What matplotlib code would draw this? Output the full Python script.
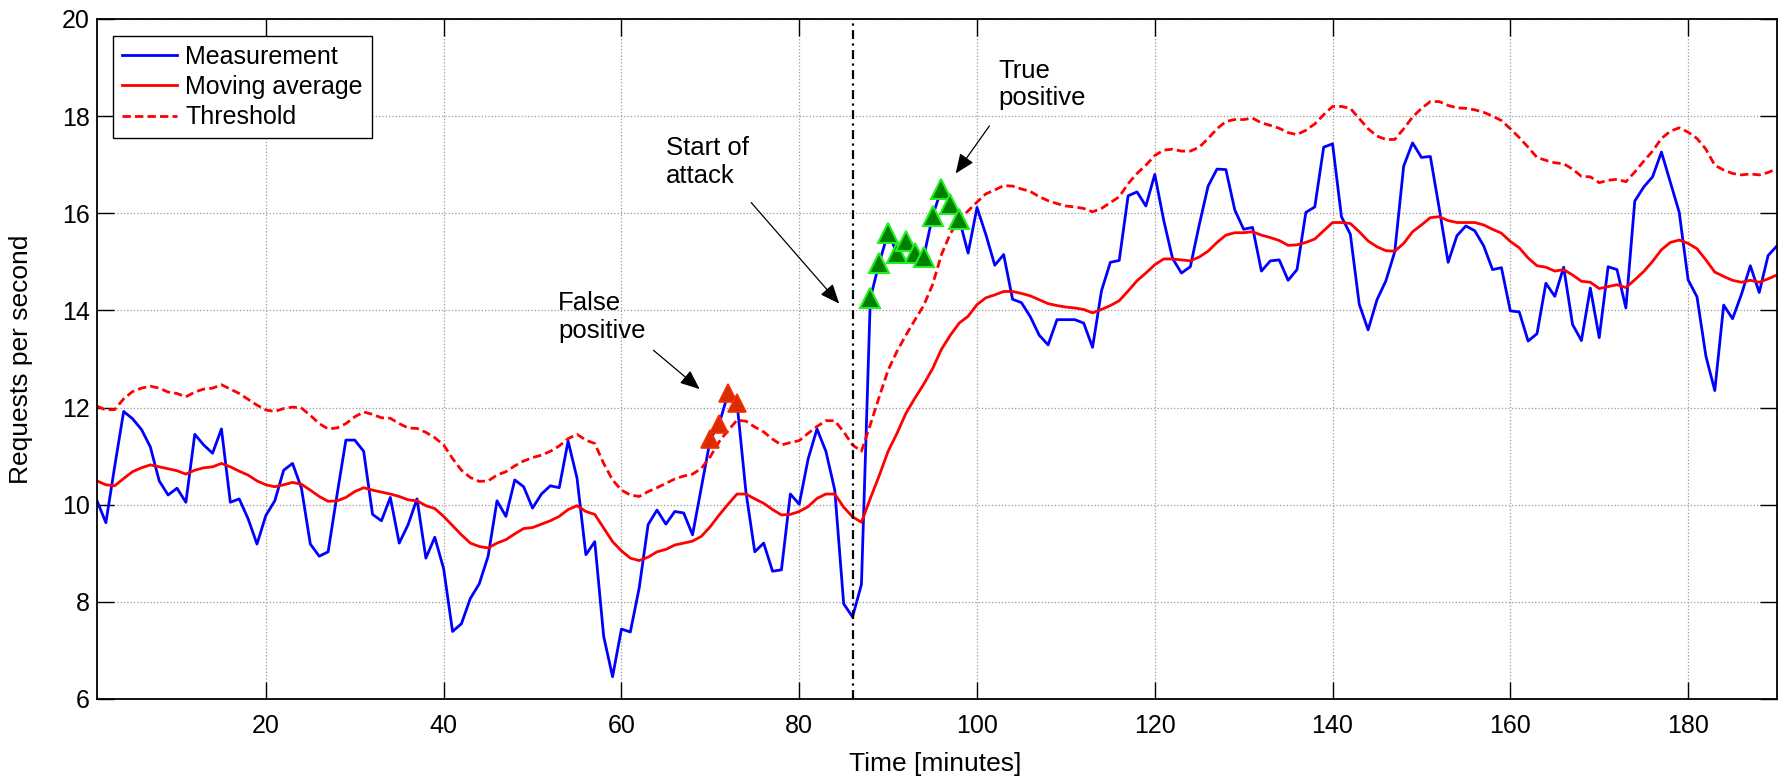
import numpy as np
import matplotlib
matplotlib.use("Agg")
import matplotlib.pyplot as plt

plt.rcParams["font.family"] = ["Liberation Sans", "DejaVu Sans"]

# requests per second, one value per minute (1..190)
measurement = [
    10.08, 9.63, 10.80, 11.92, 11.77, 11.55, 11.19, 10.49, 10.20, 10.34,
    10.05, 11.45, 11.23, 11.06, 11.56, 10.05, 10.12, 9.71, 9.19, 9.78,
    10.08, 10.71, 10.85, 10.34, 9.19, 8.94, 9.03, 10.20, 11.33, 11.33,
    11.10, 9.80, 9.67, 10.15, 9.21, 9.59, 10.12, 8.90, 9.33, 8.68,
    7.39, 7.55, 8.07, 8.37, 8.94, 10.08, 9.76, 10.51, 10.37, 9.93,
    10.22, 10.39, 10.35, 11.31, 10.55, 8.97, 9.24, 7.29, 6.46, 7.44,
    7.38, 8.29, 9.59, 9.89, 9.60, 9.86, 9.83, 9.38, 10.37, 11.35,
    11.67, 12.29, 12.10, 10.27, 9.03, 9.21, 8.63, 8.66, 10.22, 10.01,
    10.94, 11.56, 11.10, 10.30, 7.96, 7.69, 8.36, 14.25, 14.98, 15.60,
    15.18, 15.42, 15.18, 15.10, 15.94, 16.50, 16.19, 15.88, 15.18, 16.12,
    15.56, 14.93, 15.15, 14.23, 14.16, 13.87, 13.49, 13.29, 13.81, 13.81,
    13.81, 13.74, 13.24, 14.40, 14.99, 15.03, 16.36, 16.44, 16.15, 16.80,
    15.86, 15.07, 14.77, 14.90, 15.76, 16.56, 16.91, 16.90, 16.07, 15.67,
    15.71, 14.81, 15.02, 15.04, 14.62, 14.84, 16.02, 16.13, 17.36, 17.43,
    15.93, 15.57, 14.13, 13.60, 14.22, 14.61, 15.21, 16.97, 17.45, 17.15,
    17.17, 16.10, 14.99, 15.54, 15.74, 15.64, 15.33, 14.84, 14.88, 13.99,
    13.97, 13.37, 13.52, 14.56, 14.29, 14.89, 13.71, 13.38, 14.46, 13.44,
    14.90, 14.84, 14.05, 16.25, 16.54, 16.75, 17.26, 16.64, 16.02, 14.63,
    14.28, 13.06, 12.35, 14.11, 13.83, 14.33, 14.92, 14.37, 15.13, 15.33,
]

moving_average = [
    10.49, 10.41, 10.39, 10.54, 10.68, 10.76, 10.82, 10.78, 10.74, 10.70,
    10.63, 10.71, 10.76, 10.78, 10.85, 10.78, 10.69, 10.61, 10.49, 10.41,
    10.37, 10.41, 10.46, 10.42, 10.30, 10.17, 10.07, 10.08, 10.15, 10.27,
    10.35, 10.30, 10.26, 10.22, 10.17, 10.10, 10.08, 9.98, 9.92, 9.76,
    9.57, 9.38, 9.21, 9.14, 9.11, 9.21, 9.28, 9.40, 9.51, 9.53,
    9.60, 9.67, 9.76, 9.90, 9.98, 9.86, 9.80, 9.52, 9.24, 9.05,
    8.90, 8.85, 8.92, 9.03, 9.08, 9.17, 9.21, 9.25, 9.35, 9.55,
    9.79, 10.01, 10.22, 10.22, 10.12, 10.03, 9.90, 9.79, 9.80, 9.86,
    9.96, 10.13, 10.22, 10.22, 9.95, 9.75, 9.64, 10.13, 10.60, 11.10,
    11.47, 11.88, 12.19, 12.48, 12.80, 13.20, 13.49, 13.74, 13.88, 14.12,
    14.26, 14.32, 14.39, 14.39, 14.35, 14.30, 14.22, 14.14, 14.10, 14.07,
    14.05, 14.02, 13.95, 14.02, 14.10, 14.20, 14.40, 14.61, 14.77, 14.94,
    15.06, 15.06, 15.04, 15.02, 15.10, 15.22, 15.40, 15.55, 15.60, 15.60,
    15.62, 15.55, 15.50, 15.44, 15.34, 15.35, 15.40, 15.47, 15.64, 15.81,
    15.81, 15.79, 15.62, 15.43, 15.31, 15.23, 15.22, 15.38, 15.62, 15.76,
    15.91, 15.93, 15.85, 15.81, 15.81, 15.81, 15.76, 15.67, 15.59, 15.42,
    15.29, 15.08, 14.92, 14.89, 14.81, 14.84, 14.73, 14.60, 14.58, 14.45,
    14.49, 14.53, 14.47, 14.63, 14.80, 15.01, 15.25, 15.40, 15.45, 15.38,
    15.27, 15.04, 14.79, 14.70, 14.62, 14.58, 14.62, 14.58, 14.65, 14.73,
]

threshold = [
    12.03, 11.95, 11.96, 12.18, 12.33, 12.40, 12.44, 12.40, 12.32, 12.29,
    12.22, 12.32, 12.38, 12.40, 12.47, 12.38, 12.29, 12.17, 12.05, 11.95,
    11.92, 11.98, 12.01, 11.99, 11.84, 11.67, 11.56, 11.58, 11.67, 11.81,
    11.91, 11.86, 11.79, 11.78, 11.67, 11.58, 11.57, 11.49, 11.38, 11.23,
    10.95, 10.71, 10.56, 10.48, 10.49, 10.61, 10.68, 10.80, 10.90, 10.97,
    11.02, 11.10, 11.21, 11.36, 11.45, 11.33, 11.26, 10.85, 10.51, 10.30,
    10.20, 10.17, 10.27, 10.35, 10.44, 10.53, 10.59, 10.63, 10.75, 10.99,
    11.30, 11.53, 11.74, 11.72, 11.60, 11.50, 11.35, 11.23, 11.28, 11.32,
    11.47, 11.61, 11.73, 11.73, 11.50, 11.23, 11.10, 11.65, 12.22, 12.77,
    13.16, 13.49, 13.80, 14.10, 14.53, 15.15, 15.58, 15.87, 16.05, 16.23,
    16.40, 16.48, 16.57, 16.56, 16.50, 16.45, 16.34, 16.26, 16.20, 16.15,
    16.13, 16.10, 16.03, 16.10, 16.22, 16.34, 16.61, 16.82, 16.99, 17.19,
    17.30, 17.32, 17.28, 17.28, 17.36, 17.54, 17.74, 17.89, 17.93, 17.93,
    17.96, 17.86, 17.81, 17.75, 17.66, 17.62, 17.71, 17.84, 18.03, 18.20,
    18.20, 18.16, 17.95, 17.74, 17.59, 17.52, 17.52, 17.74, 17.98, 18.16,
    18.30, 18.30, 18.22, 18.17, 18.16, 18.13, 18.08, 18.00, 17.91, 17.74,
    17.56, 17.36, 17.15, 17.09, 17.04, 17.02, 16.91, 16.76, 16.75, 16.63,
    16.68, 16.70, 16.65, 16.85, 17.07, 17.28, 17.54, 17.69, 17.76, 17.67,
    17.54, 17.32, 16.99, 16.89, 16.82, 16.79, 16.81, 16.79, 16.84, 16.92,
]

false_positive_minutes = [70, 71, 72, 73]
true_positive_minutes = [88, 89, 90, 91, 92, 93, 94, 95, 96, 97, 98]
attack_start = 86

legend_labels = ["Measurement", "Moving average", "Threshold"]
x_ticks = [20, 40, 60, 80, 100, 120, 140, 160, 180]
y_ticks = [6, 8, 10, 12, 14, 16, 18, 20]


def add_note(ax, text, text_pos, tail, head):
    ax.text(text_pos[0], text_pos[1], text, fontsize=18.5, ha="left",
            va="center", linespacing=1.2)
    ax.annotate("", xy=head, xytext=tail,
                arrowprops=dict(arrowstyle="-|>,head_length=0.6,head_width=0.25",
                                color="k", lw=0.9, mutation_scale=20,
                                shrinkA=0, shrinkB=0))


def main():
    minutes = np.arange(1, len(measurement) + 1)
    meas = np.array(measurement)

    fig = plt.figure(figsize=(17.87, 7.77), dpi=100)
    ax = fig.add_axes([97 / 1787, 1 - 699 / 777, 1680 / 1787, 680 / 777])

    ax.plot(minutes, measurement, color="#0000ff", lw=2.0, label=legend_labels[0])
    ax.plot(minutes, moving_average, color="#ff0000", lw=2.0, label=legend_labels[1])
    ax.plot(minutes, threshold, color="#ff0000", lw=2.0, dashes=(3, 1.5),
            label=legend_labels[2])

    # start of attack
    ax.axvline(attack_start, color="k", lw=1.6, dashes=(4, 2, 1, 2))

    fp = np.array(false_positive_minutes)
    tp = np.array(true_positive_minutes)
    ax.plot(fp, meas[fp - 1], ls="none", marker="^", ms=13,
            mfc="#dd2a00", mec="#ee3300", mew=1.2)
    ax.plot(tp, meas[tp - 1], ls="none", marker="^", ms=14,
            mfc="#008000", mec="#22ee22", mew=1.5)

    add_note(ax, "False\npositive", (52.9, 13.86), (63.6, 13.18), (68.8, 12.38))
    add_note(ax, "Start of\nattack", (65.0, 17.05), (74.6, 16.22), (84.5, 14.14))
    add_note(ax, "True\npositive", (102.4, 18.65), (101.4, 17.80), (97.6, 16.82))

    ax.set_xlim(1, 190)
    ax.set_ylim(6, 20)
    ax.set_xticks(x_ticks)
    ax.set_yticks(y_ticks)
    ax.grid(True, color="#9a9a9a", linestyle=":", linewidth=0.9)

    ax.tick_params(direction="in", length=12, width=1.0, top=True, right=True,
                   labelsize=18)
    ax.tick_params(axis="x", pad=11)
    ax.tick_params(axis="y", pad=5)
    for sp in ax.spines.values():
        sp.set_linewidth(1.3)

    ax.set_xlabel("Time [minutes]", fontsize=19)
    ax.set_ylabel("Requests per second", fontsize=19)
    ax.xaxis.set_label_coords(0.499, -0.078)
    ax.yaxis.set_label_coords(-0.038, 0.5)

    leg = ax.legend(loc="upper left", bbox_to_anchor=(0.0095, 0.975),
                    borderaxespad=0, fontsize=18, fancybox=False,
                    framealpha=1, edgecolor="k", handlelength=2.2,
                    handletextpad=0.35, labelspacing=0.25, borderpad=0.35)
    leg.get_frame().set_linewidth(1.0)

    fig.savefig("out.png", dpi=100)


if __name__ == "__main__":
    main()
